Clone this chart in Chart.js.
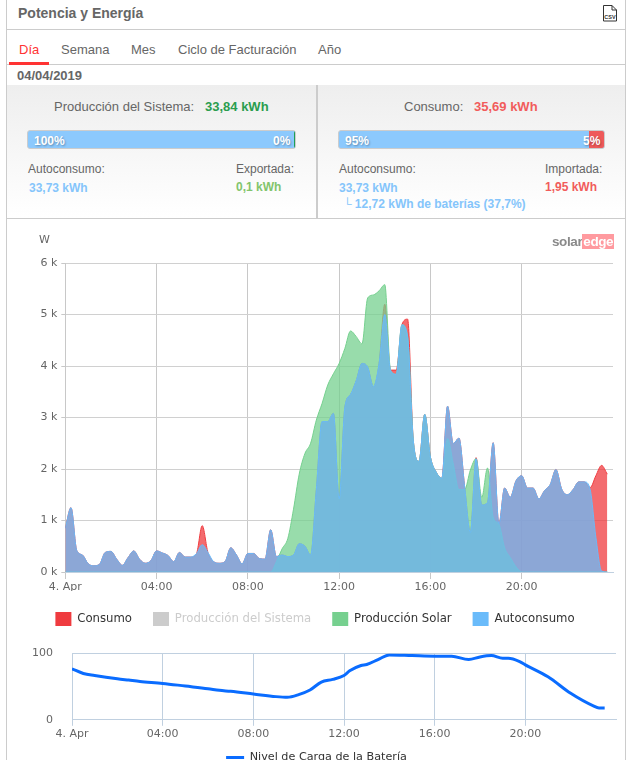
<!DOCTYPE html>
<html>
<head>
<meta charset="utf-8">
<title>Potencia y Energía</title>
<script src="https://cdn.jsdelivr.net/npm/chart.js@4"></script>
<style>
html, body { margin: 0; padding: 0; background: #fff; overflow: hidden; }
body { width: 636px; height: 760px; position: relative; font-family: "Liberation Sans", Arial, sans-serif; font-size: 12px; color: #666; }
.abs { position: absolute; white-space: nowrap; }
.line { position: absolute; background: #ccc; }
.panel { position: absolute; top: 85px; height: 132px; background: linear-gradient(#eee, #fff); }
.bar { position: absolute; top: 130px; height: 17px; border: 1px solid #ccc; border-radius: 3px; background: #8cc9fd; overflow: hidden; }
.pct { position: absolute; color: #fff; font-weight: bold; top: 134px; text-shadow: 1px 1px 2px rgba(0,0,0,.3); }
canvas { position: absolute; }
</style>
</head>
<body>
<div class="line" style="left:6px;top:0;width:1px;height:760px"></div>
<div class="line" style="left:625px;top:0;width:1px;height:760px"></div>
<div class="line" style="left:7px;top:29px;width:618px;height:1px"></div>
<div class="line" style="left:7px;top:64px;width:618px;height:1px"></div>
<div class="line" style="left:7px;top:85px;width:618px;height:1px"></div>
<div class="line" style="left:7px;top:218px;width:618px;height:1px"></div>

<div class="abs" style="left:18px;top:5px;font-size:14px;font-weight:bold;color:#666">Potencia y Energía</div>
<svg class="abs" style="left:602px;top:5px" width="16" height="17" viewBox="0 0 16 17">
  <path d="M1.5 .5H10L14.5 5V16H1.5Z M10 .5V5H14.5" fill="#fff" stroke="#333"/>
  <text x="8" y="13.5" font-size="5.5" font-weight="bold" text-anchor="middle" fill="#333">CSV</text>
</svg>

<div class="abs" style="left:19px;top:42px;font-size:13px;color:#f33">Día</div>
<div class="line" style="left:9px;top:62px;width:40px;height:3px;background:#f33"></div>
<div class="abs" style="left:61px;top:42px;font-size:13px">Semana</div>
<div class="abs" style="left:131px;top:42px;font-size:13px">Mes</div>
<div class="abs" style="left:178px;top:42px;font-size:13px">Ciclo de Facturación</div>
<div class="abs" style="left:318px;top:42px;font-size:13px">Año</div>
<div class="abs" style="left:17px;top:68px;font-size:13px;font-weight:bold">04/04/2019</div>

<div class="panel" style="left:7px;width:309px"></div>
<div class="panel" style="left:318px;width:307px"></div>
<div class="line" style="left:316px;top:86px;width:2px;height:132px"></div>

<div class="abs" style="left:54px;top:99px;font-size:13px">Producción del Sistema:</div>
<div class="abs" style="left:205px;top:99px;font-size:13px;font-weight:bold;color:#2a9d4e">33,84 kWh</div>
<div class="bar" style="left:27px;width:267px"><div style="position:absolute;right:0;top:0;width:1px;height:17px;background:#1e9e55"></div></div>
<div class="pct" style="left:34px">100%</div>
<div class="pct" style="left:273px">0%</div>
<div class="abs" style="left:28px;top:162px">Autoconsumo:</div>
<div class="abs" style="left:236px;top:162px">Exportada:</div>
<div class="abs" style="left:29px;top:181px;font-weight:bold;color:#85c5fb">33,73 kWh</div>
<div class="abs" style="left:236px;top:180px;font-weight:bold;color:#82c46c">0,1 kWh</div>

<div class="abs" style="left:404px;top:99px;font-size:13px">Consumo:</div>
<div class="abs" style="left:474px;top:99px;font-size:13px;font-weight:bold;color:#f15c5c">35,69 kWh</div>
<div class="bar" style="left:338px;width:265px"><div style="position:absolute;right:0;top:0;width:15px;height:17px;background:#ee5a5a"></div></div>
<div class="pct" style="left:345px">95%</div>
<div class="pct" style="left:583px">5%</div>
<div class="abs" style="left:339px;top:162px">Autoconsumo:</div>
<div class="abs" style="left:545px;top:162px">Importada:</div>
<div class="abs" style="left:339px;top:181px;font-weight:bold;color:#85c5fb">33,73 kWh</div>
<div class="abs" style="left:545px;top:180px;font-weight:bold;color:#f15c5c">1,95 kWh</div>
<div class="abs" style="left:343px;top:197px;font-weight:bold;color:#85c5fb"><span style="font-weight:normal">└</span> 12,72 kWh de baterías (37,7%)</div>

<canvas id="power" width="600" height="411" style="left:15px;top:225px;width:600px;height:411px"></canvas>
<canvas id="battery" width="603" height="145" style="left:15px;top:628px;width:603px;height:145px"></canvas>

<div class="abs" style="left:39px;top:233px;font-family:'DejaVu Sans';font-size:11px">W</div>
<div class="abs" style="left:552px;top:234px;font-size:13.5px;font-weight:bold;color:#8a8a8a;letter-spacing:-.4px">solar<span style="background:#ff9a9f;color:#fff;padding:0 1px 0 1px">edge</span></div>

<script>
// kW every 15 minutes, one row per hour
var consumo = [
    .85, 1.25, .42, .33,
    .16, .12, .15, .38,
    .40, .25, .13, .28,
    .41, .25, .17, .22,
    .41, .37, .32, .2,
    .38, .29, .29, .36,
    .9, .38, .2, .17,
    .2, .47, .33, .16,
    .36, .36, .26, .25,
    .82, .3, .33, .30,
    .33, .55, .5, .33,
    1.6, 2.92, 2.92, 3.08,
    1.42, 3.2, 3.45, 3.72,
    4.05, 3.98, 3.6, 4.05,
    5.2, 3.92, 3.92, 4.8,
    4.91, 2.55, 2.15, 3.06,
    2.23, 1.94, 1.82, 3.22,
    2.49, 2.6, 1.65, .77,
    2.22, 1.3, 1.35, 2.51,
    .93, 1.63, 1.45, 1.77,
    1.87, 1.63, 1.63, 1.42,
    1.58, 1.7, 1.99, 1.61,
    1.5, 1.6, 1.75, 1.75,
    1.64, 1.87, 2.07, 1.9
];
var produccionSolar = [
    0, 0, 0, 0,
    0, 0, 0, 0,
    0, 0, 0, 0,
    0, 0, 0, 0,
    0, 0, 0, 0,
    0, 0, 0, 0,
    0, 0, 0, 0,
    0, 0, 0, 0,
    0, 0, 0, 0,
    0, .2, .45, .65,
    1.22, 1.9, 2.3, 2.5,
    2.95, 3.27, 3.63, 3.85,
    4.05, 4.34, 4.68, 4.57,
    4.43, 5.32, 5.38, 5.46,
    5.58, 3.92, 3.84, 4.8,
    4.57, 2.55, 2.15, 3.06,
    2.23, 1.94, 1.82, 2.59,
    2.1, 1.6, 1.6, 1.98,
    2.2, 1.45, 2.02, 1.06,
    .93, .47, .28, .1,
    0, 0, 0, 0,
    0, 0, 0, 0,
    0, 0, 0, 0,
    0, 0, 0, 0
];
var autoconsumo = [
    .85, 1.25, .42, .33,
    .16, .12, .15, .38,
    .40, .25, .13, .28,
    .41, .25, .17, .22,
    .41, .37, .32, .2,
    .38, .29, .29, .36,
    .53, .38, .2, .17,
    .2, .47, .33, .16,
    .36, .36, .26, .25,
    .82, .3, .33, .30,
    .33, .55, .5, .33,
    1.6, 2.92, 2.92, 3.08,
    1.42, 3.2, 3.45, 3.72,
    4.05, 3.98, 3.6, 4.05,
    5.0, 3.92, 3.84, 4.8,
    4.57, 2.55, 2.15, 3.06,
    2.23, 1.94, 1.82, 3.22,
    2.49, 2.6, 1.65, .77,
    2.2, 1.3, 1.35, 2.51,
    .93, 1.63, 1.45, 1.77,
    1.87, 1.63, 1.63, 1.42,
    1.58, 1.7, 1.99, 1.61,
    1.5, 1.6, 1.75, 1.75,
    1.6, .67, .02, 0
];
var horasBateria = [0, .5, 1, 2, 2.5, 3, 4, 5, 6, 6.5, 7, 8, 9, 9.5, 10, 10.5, 11, 11.5, 12, 12.25, 12.75, 13, 13.5, 14, 15, 16, 16.75, 17.5, 18, 18.5, 19, 19.25, 19.75, 20, 21, 22, 23, 23.25, 23.5];
var nivelBateria = [77, 70, 67, 62, 60, 58, 55, 51, 47, 44.5, 43, 39, 35, 34, 38, 45, 57, 61, 67, 74, 82, 83.5, 91, 98, 97, 96, 96, 91, 95, 97, 93, 93, 88, 83, 65, 40, 21, 18, 18];
var etiquetasHora = { 0: '4. Apr', 4: '04:00', 8: '08:00', 12: '12:00', 16: '16:00', 20: '20:00' };
var fuente = "'DejaVu Sans', sans-serif";

function puntos(valores) {
    return valores.map(function (v, i) { return { x: i / 4, y: v }; });
}

// lower order is painted on top
function area(label, valores, linea, relleno, orden) {
    return {
        label: label,
        data: puntos(valores),
        borderColor: linea,
        backgroundColor: relleno,
        borderWidth: 1,
        fill: 'origin',
        pointRadius: 0,
        order: orden,
        cubicInterpolationMode: 'monotone'
    };
}

function ejeX(colorGrid, marca, alto) {
    return {
        type: 'linear',
        min: 0,
        max: 24,
        border: { color: '#c0d0e0', z: 1 },
        grid: {
            color: function (c) { return c.tick && c.tick.value === 24 ? 'transparent' : colorGrid; },
            tickColor: function (c) { return c.tick && c.tick.value === 24 ? 'transparent' : colorGrid; },
            tickLength: marca
        },
        ticks: {
            stepSize: 4,
            autoSkip: false,
            maxRotation: 0,
            padding: 2,
            color: '#666',
            font: { family: fuente, size: 11 },
            callback: function (v) { return etiquetasHora[v] || ''; }
        },
        afterFit: function (s) { s.height = alto; }
    };
}

window.addEventListener('load', function () {
    Chart.defaults.animation = false;

    new Chart(document.getElementById('power').getContext('2d'), {
        type: 'line',
        data: {
            datasets: [
                area('Consumo', consumo, '#ef3b3f', 'rgba(239,59,63,.75)', 3),
                { label: 'Producción del Sistema', data: [], borderColor: '#ccc', backgroundColor: '#ccc', order: 4 },
                area('Producción Solar', produccionSolar, '#76d08f', 'rgba(118,208,143,.75)', 2),
                area('Autoconsumo', autoconsumo, '#6abbfa', 'rgba(106,187,250,.75)', 1)
            ]
        },
        options: {
            responsive: false,
            layout: { padding: { top: 38, right: 0, left: 0, bottom: 0 } },
            scales: {
                x: ejeX('#c8c8c8', 7, 19),
                y: {
                    min: 0,
                    max: 6,
                    border: { color: '#c8c8c8' },
                    grid: { color: '#d0d0d0', tickColor: '#c8c8c8', tickLength: 4 },
                    ticks: {
                        stepSize: 1,
                        padding: 4,
                        color: '#666',
                        font: { family: fuente, size: 11 },
                        callback: function (v) { return v + ' k'; }
                    },
                    afterFit: function (s) { s.width = 50.3; }
                }
            },
            plugins: {
                tooltip: { enabled: false },
                legend: {
                    position: 'bottom',
                    labels: {
                        boxWidth: 16,
                        boxHeight: 14,
                        padding: 21,
                        font: { family: fuente, size: 11.7 },
                        generateLabels: function (chart) {
                            return chart.data.datasets.map(function (d, i) {
                                var gris = d.data.length === 0;
                                return {
                                    text: d.label,
                                    fillStyle: gris ? '#ccc' : d.borderColor,
                                    strokeStyle: 'transparent',
                                    lineWidth: 0,
                                    fontColor: gris ? '#ccc' : '#333',
                                    datasetIndex: i
                                };
                            });
                        }
                    }
                }
            }
        }
    });

    new Chart(document.getElementById('battery').getContext('2d'), {
        type: 'line',
        data: {
            datasets: [{
                label: 'Nivel de Carga de la Batería',
                data: horasBateria.map(function (h, i) { return { x: h, y: nivelBateria[i] }; }),
                borderColor: '#0a6cff',
                backgroundColor: '#0a6cff',
                borderWidth: 3,
                fill: false,
                pointRadius: 0,
                cubicInterpolationMode: 'monotone'
            }]
        },
        options: {
            responsive: false,
            layout: { padding: { top: 0, right: 0, left: 0, bottom: 0 } },
            scales: {
                x: ejeX('#c0d0e0', 6, 22),
                y: {
                    min: 0,
                    max: 100,
                    border: { display: false },
                    grid: { color: '#c0d0e0', drawTicks: false },
                    ticks: {
                        stepSize: 100,
                        padding: 19,
                        color: '#666',
                        font: { family: fuente, size: 11 }
                    },
                    afterFit: function (s) { s.width = 57; }
                }
            },
            plugins: {
                tooltip: { enabled: false },
                legend: {
                    position: 'bottom',
                    labels: {
                        usePointStyle: true,
                        pointStyle: 'line',
                        pointStyleWidth: 18,
                        color: '#333',
                        font: { family: fuente, size: 11.2 }
                    }
                }
            }
        }
    });
});
</script>
</body>
</html>
